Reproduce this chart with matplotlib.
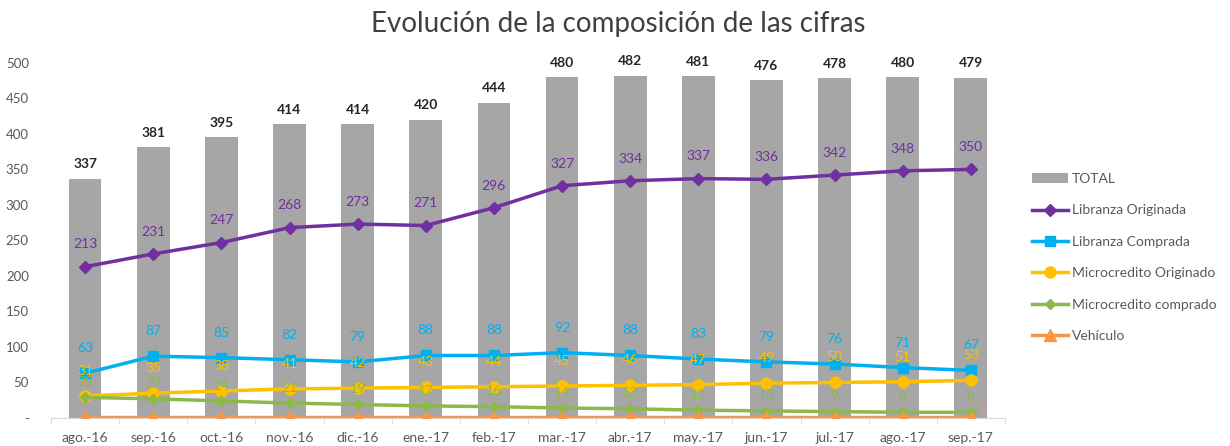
import numpy as np
import matplotlib.pyplot as plt

meses = ["ago.-16", "sep.-16", "oct.-16", "nov.-16", "dic.-16", "ene.-17", "feb.-17",
         "mar.-17", "abr.-17", "may.-17", "jun.-17", "jul.-17", "ago.-17", "sep.-17"]
total = [337, 381, 395, 414, 414, 420, 444, 480, 482, 481, 476, 478, 480, 479]
libranza_orig = [213, 231, 247, 268, 273, 271, 296, 327, 334, 337, 336, 342, 348, 350]
libranza_comp = [63, 87, 85, 82, 79, 88, 88, 92, 88, 83, 79, 76, 71, 67]
micro_orig = [31, 35, 38, 41, 42, 43, 44, 45, 46, 47, 49, 50, 51, 53]
micro_comp = [29, 27, 24, 21, 19, 17, 16, 14, 13, 11, 10, 9, 8, 8]
vehiculo = [1, 1, 1, 1, 1, 1, 1, 1, 1, 1, 1, 1, 1, 1]

plt.rcParams["font.family"] = ["Lato", "DejaVu Sans"]
gris_txt = "#595959"

fig = plt.figure(figsize=(12.3, 4.46), dpi=100)
ax = fig.add_axes([0.0415, 0.0628, 0.7755, 0.7963])
x = np.arange(len(meses))

ax.bar(x, total, width=0.48, color="#A6A6A6", label="TOTAL", zorder=1)

series = [
    (libranza_orig, "Libranza Originada", "#7030A0", "D", 6),
    (libranza_comp, "Libranza Comprada", "#00B0F0", "s", 7),
    (micro_orig, "Microcredito Originado", "#FFC000", "o", 8),
    (micro_comp, "Microcredito comprado", "#8DB84A", "D", 5),
    (vehiculo, "Vehículo", "#F79646", "^", 8),
]
for vals, nombre, col, mk, ms in series:
    ax.plot(x, vals, color=col, marker=mk, markersize=ms, linewidth=2.5,
            label=nombre, zorder=3)

# etiquetas de datos
for i, v in enumerate(total):
    ax.annotate(f"{v}", (x[i], v), xytext=(0, 6), textcoords="offset points",
                ha="center", va="bottom", fontsize=10, fontweight="bold", color="#262626")
for vals, col, dy in [(libranza_orig, "#7030A0", 16), (libranza_comp, "#00B0F0", 18),
                      (micro_orig, "#FFC000", 18), (micro_comp, "#8DB84A", 11)]:
    for i, v in enumerate(vals):
        ax.annotate(f"{v}", (x[i], v), xytext=(0, dy), textcoords="offset points",
                    ha="center", va="center", fontsize=10, color=col, zorder=4)
ax.annotate(f"{vehiculo[-1]}", (x[-1], vehiculo[-1]), xytext=(9, 5), textcoords="offset points",
            ha="center", va="center", fontsize=10, color="#F79646")

ax.set_xlim(-0.5, len(meses) - 0.5)
ax.set_ylim(0, 500)
ax.set_yticks(range(0, 501, 50))
ax.set_yticklabels(["-"] + [str(t) for t in range(50, 501, 50)])
ax.set_xticks(x)
ax.set_xticklabels(meses)
ax.set_xticks(np.arange(-0.5, len(meses), 1), minor=True)
ax.tick_params(axis="y", length=0, pad=16, labelsize=9.5, labelcolor=gris_txt)
ax.tick_params(axis="x", which="major", length=0, pad=10, labelsize=10, labelcolor=gris_txt)
ax.tick_params(axis="x", which="minor", length=4, color="#D9D9D9")
for s in ["left", "right", "top"]:
    ax.spines[s].set_visible(False)
ax.spines["bottom"].set_color("#D9D9D9")

fig.suptitle("Evolución de la composición de las cifras", x=0.503, y=0.975,
             fontsize=20, color="#404040")

handles, etiquetas = ax.get_legend_handles_labels()
orden = [5, 0, 1, 2, 3, 4]
ax.legend([handles[i] for i in orden], [etiquetas[i] for i in orden],
          loc="upper left", bbox_to_anchor=(1.015, 0.725), frameon=False, fontsize=10,
          labelcolor=gris_txt, handlelength=2.6, handletextpad=0.3, labelspacing=1.4)

fig.savefig("out.png", dpi=100)
